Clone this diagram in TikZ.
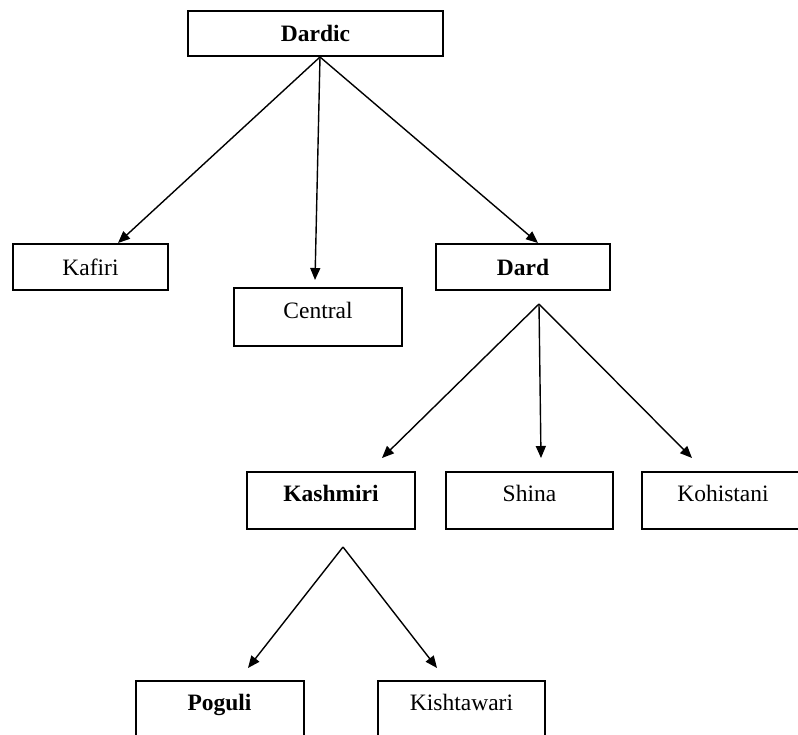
\documentclass[tikz,border=0pt]{standalone}
\usepackage{fontspec}
\setmainfont{Liberation Serif}
\usetikzlibrary{arrows.meta}
\begin{document}
\begin{tikzpicture}[x=1pt,y=-1pt,
  box/.style={draw=black,line width=2pt,rectangle,inner sep=0pt,
    font=\fontsize{23.5}{27}\selectfont,text height=17pt,text depth=1pt},
  raised/.style={text depth=15pt},
  arr/.style={draw=black,line width=1.4pt,-{Triangle[length=12pt,width=10pt]}}]
\useasboundingbox (0,0) rectangle (798,734);
% nodes
\node[box,minimum width=255pt,minimum height=45pt] (dardic) at (315.5,33.5) {\bfseries Dardic};
\node[box,minimum width=155pt,minimum height=46pt] (kafiri) at (90.5,267) {Kafiri};
\node[box,raised,minimum width=168pt,minimum height=58pt] (central) at (318,317) {Central};
\node[box,minimum width=174pt,minimum height=46pt] (dard) at (523,267) {\bfseries Dard};
\node[box,raised,minimum width=168pt,minimum height=57pt] (kashmiri) at (331,500.5) {\bfseries Kashmiri};
\node[box,raised,minimum width=167pt,minimum height=57pt] (shina) at (529.5,500.5) {Shina};
\node[box,raised,minimum width=162pt,minimum height=57pt] (kohistani) at (723,500.5) {Kohistani};
\node[box,raised,minimum width=168pt,minimum height=57pt] (poguli) at (219.5,709.5) {\bfseries Poguli};
\node[box,raised,minimum width=167pt,minimum height=57pt] (kishtawari) at (461.5,709.5) {Kishtawari};
% fork points and arrow tips
\coordinate (f1) at (320,57);
\coordinate (f2) at (539,304);
\coordinate (f3) at (343,547);
\coordinate (tkafiri) at (118,243);
\coordinate (tcentral) at (315,280);
\coordinate (tdard) at (538,243);
\coordinate (tkashmiri) at (382,458);
\coordinate (tshina) at (541,458);
\coordinate (tkohistani) at (692,458);
\coordinate (tpoguli) at (248,668);
\coordinate (tkishtawari) at (437,668);
% connectors
\draw[arr] (f1) -- (tkafiri);
\draw[arr] (f1) -- (tcentral);
\draw[arr] (f1) -- (tdard);
\draw[arr] (f2) -- (tkashmiri);
\draw[arr] (f2) -- (tshina);
\draw[arr] (f2) -- (tkohistani);
\draw[arr] (f3) -- (tpoguli);
\draw[arr] (f3) -- (tkishtawari);
\end{tikzpicture}
\end{document}
